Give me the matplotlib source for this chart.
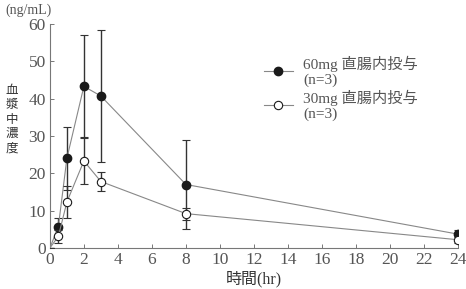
import matplotlib
matplotlib.use("Agg")
import matplotlib.pyplot as plt
from matplotlib.lines import Line2D

plt.rcParams.update({
    "font.family": ["Liberation Serif", "Noto Sans CJK JP"],
    "axes.unicode_minus": False,
})

# data
time = [0, 0.5, 1, 2, 3, 8, 24]
conc_60 = [0, 5.7, 24.0, 43.3, 40.7, 17.0, 3.7]
err_60 = [0, 2.2, 8.4, 13.7, 17.6, 12.0, 1.2]
conc_30 = [0, 3.1, 12.3, 23.3, 17.8, 9.2, 2.2]
err_30 = [0, 1.8, 4.3, 6.1, 2.5, 1.6, 0.8]
label_60 = "60mg 直腸内投与\n(n=3)"
label_30 = "30mg 直腸内投与\n(n=3)"
ylabel_chars = "血漿中濃度"

TXT = "#555555"
LINE = "#888888"

fig = plt.figure(figsize=(4.66, 2.89), dpi=100)
ax = fig.add_axes([0.107, 0.142, 0.876, 0.775])

ax.errorbar(time, conc_60, yerr=err_60, fmt="-o", color=LINE, lw=0.8,
            ecolor="#333333", elinewidth=1.0, capsize=3, capthick=0.8,
            mfc="#1a1a1a", mec="#1a1a1a", ms=6, zorder=3, markevery=slice(1, None))
ax.errorbar(time, conc_30, yerr=err_30, fmt="-o", color=LINE, lw=0.8,
            ecolor="#333333", elinewidth=1.0, capsize=3, capthick=0.8,
            mfc="white", mec="#1a1a1a", ms=6, mew=0.8, zorder=4, markevery=slice(1, None))

ax.set_xlim(0, 24)
ax.set_ylim(0, 60)
ax.set_xticks(range(0, 25, 2))
ax.set_yticks(range(0, 61, 10))
ax.tick_params(direction="in", length=3, width=0.7, colors="#777777", labelcolor=TXT, labelsize=12.5, pad=3)
for s in ["top", "right"]:
    ax.spines[s].set_visible(False)
for s in ["left", "bottom"]:
    ax.spines[s].set_color("#777777")
    ax.spines[s].set_linewidth(0.8)

ax.set_xlabel("時間(hr)", color="#333333", fontsize=11.5, labelpad=2)
for i, ch in enumerate(ylabel_chars):
    fig.text(0.026, 0.685 - i * 0.05, ch, ha="center", va="center", fontsize=9, color="#333333")
fig.text(0.012, 0.965, "(ng/mL)", ha="left", va="center", fontsize=10, color=TXT)

handles = [
    Line2D([], [], color=LINE, lw=0.8, marker="o", ms=6, mfc="#1a1a1a", mec="#1a1a1a"),
    Line2D([], [], color=LINE, lw=0.8, marker="o", ms=6, mfc="white", mec="#1a1a1a", mew=0.8),
]
ax.legend(handles, [label_60, label_30], loc="upper left", bbox_to_anchor=(0.49, 0.92),
          frameon=False, fontsize=11, handlelength=1.9, handletextpad=0.7,
          labelspacing=0.15, labelcolor=TXT)

fig.savefig("out.png", dpi=100)
